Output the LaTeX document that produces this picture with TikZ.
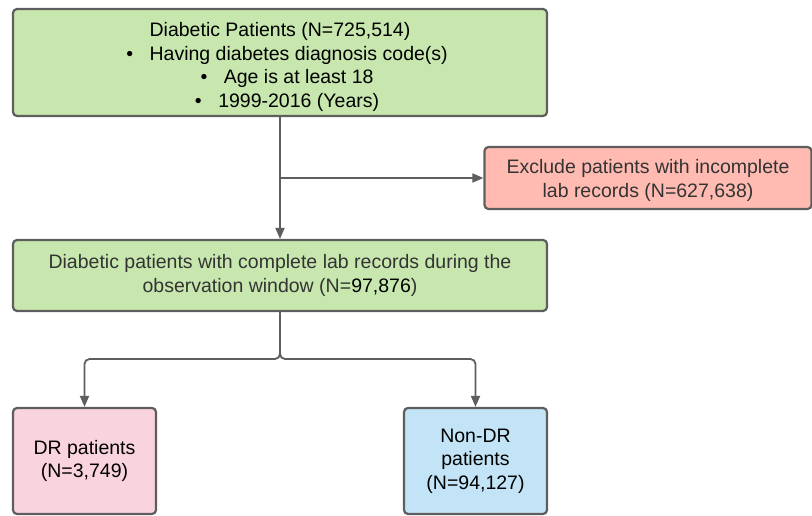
\documentclass[tikz,border=0pt]{standalone}
\usepackage{fontspec}
\setmainfont{Liberation Sans}
\usetikzlibrary{arrows.meta}
\definecolor{boxgreen}{HTML}{C7E7AF}
\definecolor{boxred}{HTML}{FFBBB1}
\definecolor{boxpink}{HTML}{F9D3DE}
\definecolor{boxblue}{HTML}{C2E4F6}
\definecolor{edgegray}{HTML}{5E5E5E}
\definecolor{txtgray}{HTML}{333333}
\tikzset{
  flowbox/.style={draw=edgegray, line width=2.2pt, rounded corners=4pt, align=center,
    inner sep=0pt, font=\fontsize{19.5}{23.5}\selectfont},
  conn/.style={draw=edgegray, line width=1.8pt},
  arr/.style={conn, -{Triangle[length=11pt,width=9pt]}},
}
\newcommand{\bul}{\hspace*{14pt}\textbullet\hspace{0.85em}}
\begin{document}
\begin{tikzpicture}[x=1pt,y=-1pt]
\useasboundingbox (0,0) rectangle (812,516);
\node[flowbox, fill=boxgreen, minimum width=534pt, minimum height=107pt] (top) at (280,62.5)
  {\rule{0pt}{23pt}Diabetic Patients (N=725,514)\\ \bul Having diabetes diagnosis code(s)\\ \bul Age is at least 18\\ \bul 1999-2016 (Years)};
\node[flowbox, fill=boxred, text=txtgray, minimum width=327pt, minimum height=62pt] (excl) at (648,178)
  {\rule{0pt}{19pt}Exclude patients with incomplete\\ lab records (N=627,638)};
\node[flowbox, fill=boxgreen, text=txtgray, minimum width=534pt, minimum height=71pt] (mid) at (280,275.5)
  {Diabetic patients with complete lab records during the\\ observation window (N=\textcolor{black}{97,876})};
\node[flowbox, fill=boxpink, minimum width=143pt, minimum height=106pt] (dr) at (84.5,461)
  {DR patients\\ (N=3,749)};
\node[flowbox, fill=boxblue, minimum width=143pt, minimum height=106pt] (ndr) at (475.5,461)
  {Non-DR\\ patients\\ (N=94,127)};
\coordinate (br) at (280,178);
\coordinate (sp) at (280,359);
\draw[arr] (top.south) -- (mid.north);
\draw[arr] (br) -- (excl.west);
\draw[arr, rounded corners=5pt] (mid.south) -- (sp) -| (dr.north);
\draw[arr, rounded corners=5pt] (mid.south) -- (sp) -| (ndr.north);
\end{tikzpicture}
\end{document}
